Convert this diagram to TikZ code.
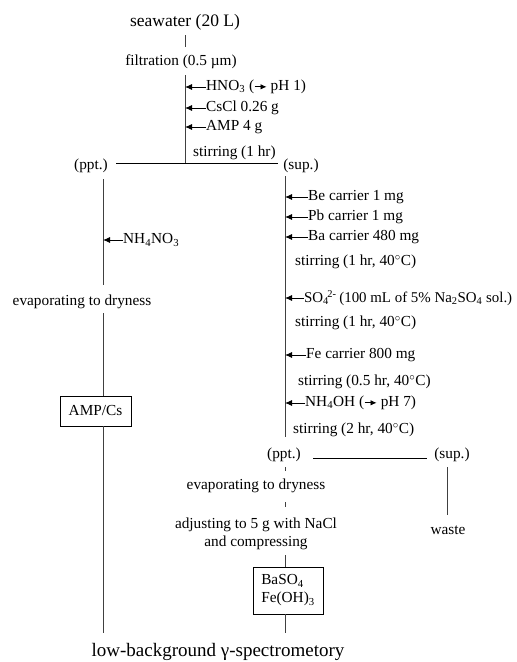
\documentclass[tikz,border=0pt]{standalone}
\usepackage{fontspec}
\setmainfont{Liberation Serif}
\usetikzlibrary{arrows.meta}
\newcommand\rarr{\tikz[baseline=-0.55ex]\draw[-{Latex[length=6pt,width=5.5pt]},line width=0.8pt](0,0)--(12pt,0);}
\newcommand\dg{$^{\circ}$}
\tikzset{
  lbl/.style={font=\fontsize{15.3}{18}\selectfont, inner sep=0pt},
  big/.style={font=\fontsize{17.5}{20}\selectfont, inner sep=0pt},
  bigb/.style={font=\fontsize{19}{22}\selectfont, inner sep=0pt},
  ln/.style={line width=0.9pt, draw=black!75},
  hl/.style={line width=0.9pt, draw=black},
  add/.style={-{Latex[length=7pt,width=6pt]}, line width=0.9pt, draw=black},
  bx/.style={draw, line width=0.9pt, inner sep=0pt, font=\fontsize{15.3}{18}\selectfont}
}
\begin{document}
\begin{tikzpicture}[x=1pt,y=-1pt]
\useasboundingbox (0,0) rectangle (517,662);
% top
\node[big] (sea) at (185,22) {seawater (20 L)};
\node[lbl] (filt) at (181,62) {filtration (0.5 µm)};
\coordinate (s1) at (185,35); \coordinate (s2) at (185,47);
\draw[ln] (s1) -- (s2);
\coordinate (m0) at (185,75); \coordinate (m1) at (185,163);
\draw[ln] (m0) -- (m1);
\coordinate (hL) at (116,163); \coordinate (hR) at (278,163);
\draw[hl] (hL) -- (hR);
% additions to main line
\node[lbl,anchor=west] (hno) at (206,87) {HNO\textsubscript{3} (\rarr\ pH 1)};
\node[lbl,anchor=west] (cscl) at (206,108) {CsCl 0.26 g};
\node[lbl,anchor=west] (amp) at (206,127) {AMP 4 g};
\coordinate (a1) at (185,87); \coordinate (a2) at (185,108); \coordinate (a3) at (185,127);
\draw[add] (hno.west) -- (a1);
\draw[add] (cscl.west) -- (a2);
\draw[add] (amp.west) -- (a3);
\node[lbl,anchor=west] (st1) at (193,153) {stirring (1 hr)};
\node[lbl] (ppt1) at (91,166) {(ppt.)};
\node[lbl] (sup1) at (301,166) {(sup.)};
% left branch
\coordinate (l0) at (103,179); \coordinate (l1) at (103,285);
\draw[ln] (l0) -- (l1);
\node[lbl,anchor=west] (nh4) at (123,240) {NH\textsubscript{4}NO\textsubscript{3}};
\coordinate (la) at (103,240);
\draw[add] (nh4.west) -- (la);
\node[lbl] (evl) at (82,302) {evaporating to dryness};
\node[bx, minimum width=71pt, minimum height=30pt] (ampcs) at (95.5,411) {AMP/Cs};
\coordinate (l2) at (103,313); \coordinate (l3) at (103,396);
\draw[ln] (l2) -- (l3);
\coordinate (l4) at (103,426); \coordinate (l5) at (103,633);
\draw[ln] (l4) -- (l5);
% right branch
\coordinate (r0) at (285,176); \coordinate (r1) at (285,437);
\draw[ln] (r0) -- (r1);
\node[lbl,anchor=west] (be) at (308,197) {Be carrier 1 mg};
\node[lbl,anchor=west] (pb) at (308,217) {Pb carrier 1 mg};
\node[lbl,anchor=west] (ba) at (308,237) {Ba carrier 480 mg};
\coordinate (b1) at (285,197); \coordinate (b2) at (285,217); \coordinate (b3) at (285,237);
\draw[add] (be.west) -- (b1);
\draw[add] (pb.west) -- (b2);
\draw[add] (ba.west) -- (b3);
\node[lbl,anchor=west] (st2) at (295,262) {stirring (1 hr, 40\dg C)};
\node[lbl,anchor=west,font=\fontsize{14.9}{18}\selectfont] (so4) at (304,298) {SO\textsubscript{4}\kern-1.5pt\textsuperscript{2-}\kern-1pt\ (100 mL of 5\% Na\textsubscript{2}SO\textsubscript{4} sol.)};
\coordinate (b4) at (285,298);
\draw[add] (so4.west) -- (b4);
\node[lbl,anchor=west] (st3) at (295,323) {stirring (1 hr, 40\dg C)};
\node[lbl,anchor=west] (fe) at (306,355) {Fe carrier 800 mg};
\coordinate (b5) at (285,355);
\draw[add] (fe.west) -- (b5);
\node[lbl,anchor=west] (st4) at (298,382) {stirring (0.5 hr, 40\dg C)};
\node[lbl,anchor=west] (nh4oh) at (305,403) {NH\textsubscript{4}OH (\rarr\ pH 7)};
\coordinate (b6) at (285,403);
\draw[add] (nh4oh.west) -- (b6);
\node[lbl,anchor=west] (st5) at (293,430) {stirring (2 hr, 40\dg C)};
\node[lbl] (ppt2) at (284,455) {(ppt.)};
\node[lbl] (sup2) at (452,455) {(sup.)};
\coordinate (h2L) at (313,458); \coordinate (h2R) at (427,458);
\draw[hl] (h2L) -- (h2R);
\coordinate (w0) at (447,467); \coordinate (w1) at (447,515);
\draw[ln] (w0) -- (w1);
\node[lbl] (waste) at (448,530) {waste};
% lower right path
\coordinate (d0) at (285,467); \coordinate (d1) at (285,471);
\draw[ln] (d0) -- (d1);
\node[lbl] (evr) at (256,486) {evaporating to dryness};
\coordinate (d2) at (285,502); \coordinate (d3) at (285,507);
\draw[ln] (d2) -- (d3);
\node[lbl, align=center] (adj) at (256,534) {adjusting to 5 g with NaCl\\and compressing};
\node[bx, minimum width=70pt, minimum height=47pt, align=left] (baso4) at (288,590.5) {BaSO\textsubscript{4}\\Fe(OH)\textsubscript{3}};
\coordinate (d4) at (285,555); \coordinate (d5) at (285,567);
\draw[ln] (d4) -- (d5);
\coordinate (d6) at (285,614); \coordinate (d7) at (285,633);
\draw[ln] (d6) -- (d7);
\node[bigb] (gam) at (218,652) {low-background γ-spectrometory};
\end{tikzpicture}
\end{document}
